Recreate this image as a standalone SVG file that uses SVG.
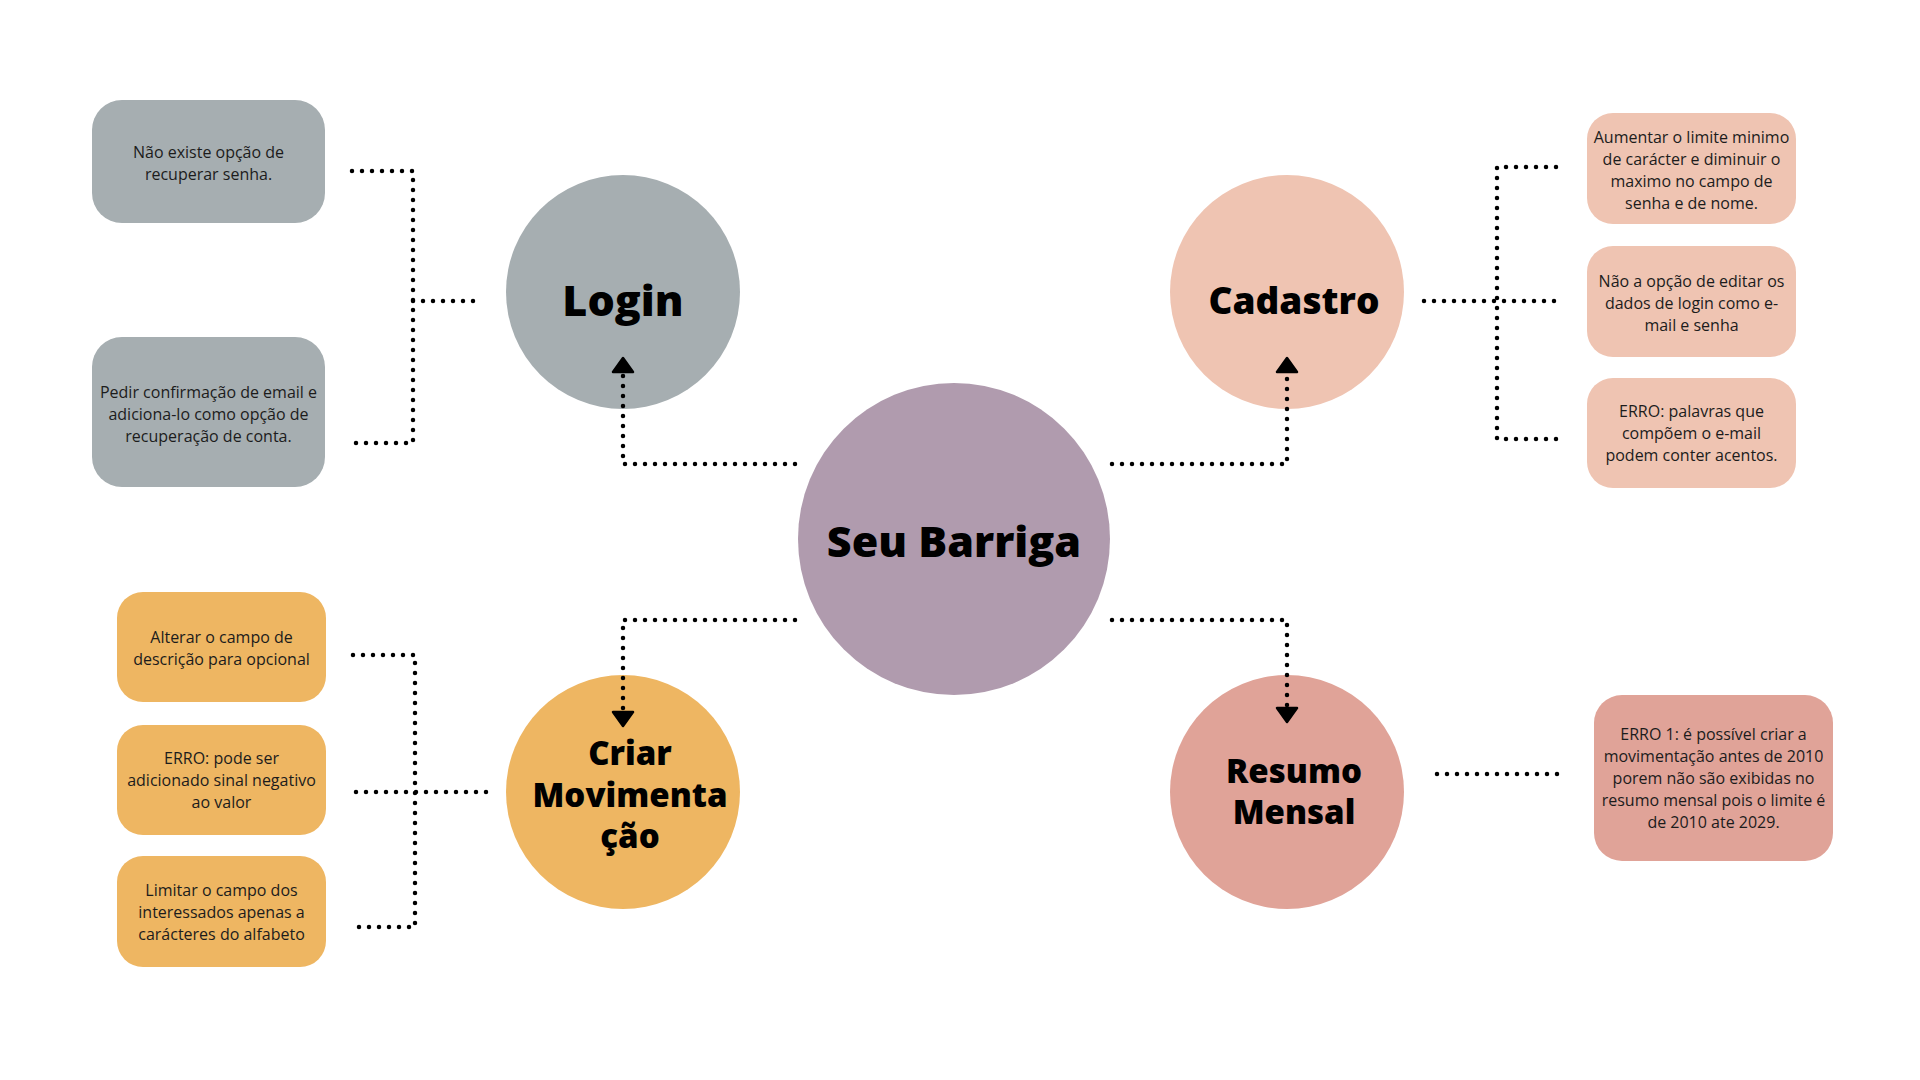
<svg xmlns="http://www.w3.org/2000/svg" width="1920" height="1080" viewBox="0 0 1920 1080">
<defs>
<style>
.dot{fill:none;stroke:#000;stroke-width:4.5;stroke-linecap:round;stroke-dasharray:0 10}
.big{font-family:"Open Sans",sans-serif;font-weight:800;fill:#000;text-anchor:middle}
.sm{font-family:"Open Sans",sans-serif;font-size:16px;fill:#1c1c1c;text-anchor:middle}
</style>
<marker id="ah" viewBox="0 0 18 24" refX="1" refY="12" markerWidth="18" markerHeight="24" markerUnits="userSpaceOnUse" orient="auto">
<path d="M2,2 L16,12 L2,22 Z" fill="#000" stroke="#000" stroke-width="2.5" stroke-linejoin="round"/>
</marker>
</defs>
<rect width="1920" height="1080" fill="#fff"/>

<g id="seu-barriga">
<circle cx="954" cy="539" r="156" fill="#B09BAE"/>
<text class="big" x="954" y="557" font-size="43">Seu Barriga</text>
</g>

<g id="login">
<circle cx="623" cy="292" r="117" fill="#A6AEB1"/>
<text class="big" x="623" y="316" font-size="43">Login</text>
</g>

<g id="cadastro">
<circle cx="1287" cy="292" r="117" fill="#EFC4B2"/>
<text class="big" x="1294" y="314" font-size="37">Cadastro</text>
</g>

<g id="criar-movimentacao">
<circle cx="623" cy="792" r="117" fill="#EEB662"/>
<text class="big" font-size="33"><tspan x="630" y="765">Criar</tspan><tspan x="630" y="807">Movimenta</tspan><tspan x="630" y="848">ção</tspan></text>
</g>

<g id="resumo-mensal">
<circle cx="1287" cy="792" r="117" fill="#E0A398"/>
<text class="big" font-size="33"><tspan x="1294" y="783">Resumo</tspan><tspan x="1294" y="824">Mensal</tspan></text>
</g>

<g id="login-note-1">
<rect x="92" y="100" width="233" height="123" rx="30" fill="#A6AEB1"/>
<text class="sm"><tspan x="208.5" y="158">Não existe opção de</tspan><tspan x="208.5" y="180">recuperar senha.</tspan></text>
</g>
<g id="login-note-2">
<rect x="92" y="337" width="233" height="150" rx="30" fill="#A6AEB1"/>
<text class="sm"><tspan x="208.5" y="398">Pedir confirmação de email e</tspan><tspan x="208.5" y="420">adiciona-lo como opção de</tspan><tspan x="208.5" y="442">recuperação de conta.</tspan></text>
</g>

<g id="cadastro-note-1">
<rect x="1587" y="113" width="209" height="111" rx="26" fill="#EFC4B2"/>
<text class="sm"><tspan x="1691.5" y="142.5">Aumentar o limite minimo</tspan><tspan x="1691.5" y="164.5">de carácter e diminuir o</tspan><tspan x="1691.5" y="186.5">maximo no campo de</tspan><tspan x="1691.5" y="208.5">senha e de nome.</tspan></text>
</g>
<g id="cadastro-note-2">
<rect x="1587" y="246" width="209" height="111" rx="26" fill="#EFC4B2"/>
<text class="sm"><tspan x="1691.5" y="287">Não a opção de editar os</tspan><tspan x="1691.5" y="309">dados de login como e-</tspan><tspan x="1691.5" y="331">mail e senha</tspan></text>
</g>
<g id="cadastro-note-3">
<rect x="1587" y="378" width="209" height="110" rx="26" fill="#EFC4B2"/>
<text class="sm"><tspan x="1691.5" y="417">ERRO: palavras que</tspan><tspan x="1691.5" y="439">compõem o e-mail</tspan><tspan x="1691.5" y="461">podem conter acentos.</tspan></text>
</g>

<g id="criar-note-1">
<rect x="117" y="592" width="209" height="110" rx="26" fill="#EEB662"/>
<text class="sm"><tspan x="221.5" y="643">Alterar o campo de</tspan><tspan x="221.5" y="665">descrição para opcional</tspan></text>
</g>
<g id="criar-note-2">
<rect x="117" y="725" width="209" height="110" rx="26" fill="#EEB662"/>
<text class="sm"><tspan x="221.5" y="764">ERRO: pode ser</tspan><tspan x="221.5" y="786">adicionado sinal negativo</tspan><tspan x="221.5" y="808">ao valor</tspan></text>
</g>
<g id="criar-note-3">
<rect x="117" y="856" width="209" height="111" rx="26" fill="#EEB662"/>
<text class="sm"><tspan x="221.5" y="896">Limitar o campo dos</tspan><tspan x="221.5" y="918">interessados apenas a</tspan><tspan x="221.5" y="940">carácteres do alfabeto</tspan></text>
</g>

<g id="resumo-note-1">
<rect x="1594" y="695" width="239" height="166" rx="28" fill="#E0A398"/>
<text class="sm"><tspan x="1713.5" y="740">ERRO 1: é possível criar a</tspan><tspan x="1713.5" y="762">movimentação antes de 2010</tspan><tspan x="1713.5" y="784">porem não são exibidas no</tspan><tspan x="1713.5" y="806">resumo mensal pois o limite é</tspan><tspan x="1713.5" y="828">de 2010 ate 2029.</tspan></text>
</g>

<g id="connectors">
<path class="dot" d="M795,464 H623 V373" marker-end="url(#ah)"/>
<path class="dot" d="M1112,464 H1287 V373" marker-end="url(#ah)"/>
<path class="dot" d="M795,620 H623 V711" marker-end="url(#ah)"/>
<path class="dot" d="M1112,620 H1287 V707" marker-end="url(#ah)"/>
<path class="dot" d="M352,171 H413 V443 H353"/>
<path class="dot" d="M413,301 H475"/>
<path class="dot" d="M1556,167 H1497 V439 H1558"/>
<path class="dot" d="M1424,301 H1556"/>
<path class="dot" d="M353,655 H415 V927 H356"/>
<path class="dot" d="M356,792 H490"/>
<path class="dot" d="M1437,774 H1567"/>
</g>
</svg>
